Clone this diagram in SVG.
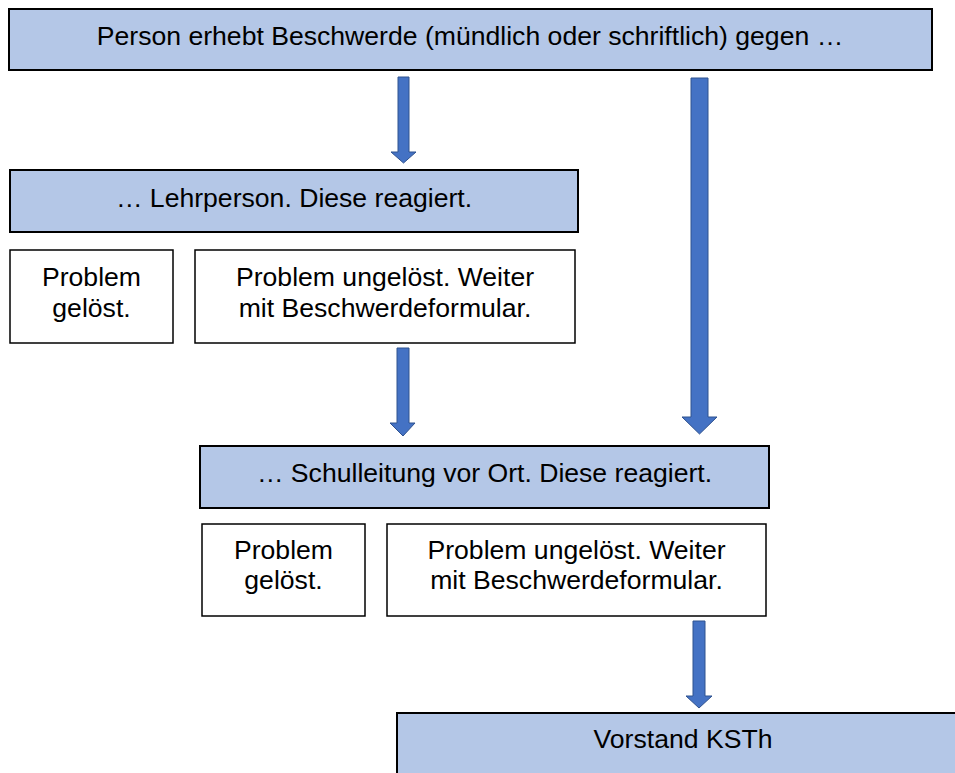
<svg xmlns="http://www.w3.org/2000/svg" width="955" height="773" viewBox="0 0 955 773">
<style>
.hb{fill:#B4C7E7;stroke:#000;stroke-width:2}
.wb{fill:#fff;stroke:#000;stroke-width:1.5}
.t{font-family:"Liberation Sans",Arial,sans-serif;font-size:26.6px;fill:#000;text-anchor:middle}
.ar{fill:#4472C4;stroke:#2F528F;stroke-width:1}
</style>
<rect width="955" height="773" fill="#fff"/>
<g id="connectors">
<path class="ar" d="M398,77 H409 V152 H416 L403.5,163 L391,152 H398 Z"/>
<path class="ar" d="M691,78 H708 V417 H717 L699.5,434 L682,417 H691 Z"/>
<path class="ar" d="M397,348 H409 V423 H415 L403,436 L390,423 H397 Z"/>
<path class="ar" d="M693,621 H705 V696 H712 L699,708 L686,696 H693 Z"/>
</g>
<g id="n_top">
<rect class="hb" x="9" y="9" width="923" height="61"/>
<text class="t" x="470" y="45">Person erhebt Beschwerde (mündlich oder schriftlich) gegen …</text>
</g>
<g id="n_lehrperson">
<rect class="hb" x="10" y="170" width="568" height="62"/>
<text class="t" x="294" y="207">… Lehrperson. Diese reagiert.</text>
</g>
<g id="n_geloest1">
<rect class="wb" x="10" y="250" width="163" height="93"/>
<text class="t" x="91.5" y="286">Problem</text>
<text class="t" x="91.5" y="317">gelöst.</text>
</g>
<g id="n_ungeloest1">
<rect class="wb" x="195" y="250" width="380" height="93"/>
<text class="t" x="385" y="286">Problem ungelöst. Weiter</text>
<text class="t" x="385" y="317">mit Beschwerdeformular.</text>
</g>
<g id="n_schulleitung">
<rect class="hb" x="200" y="446" width="569" height="62"/>
<text class="t" x="484.5" y="482">… Schulleitung vor Ort. Diese reagiert.</text>
</g>
<g id="n_geloest2">
<rect class="wb" x="202" y="524" width="163" height="92"/>
<text class="t" x="283.5" y="559">Problem</text>
<text class="t" x="283.5" y="589">gelöst.</text>
</g>
<g id="n_ungeloest2">
<rect class="wb" x="387" y="524" width="379" height="92"/>
<text class="t" x="576.5" y="559">Problem ungelöst. Weiter</text>
<text class="t" x="576.5" y="589">mit Beschwerdeformular.</text>
</g>
<g id="n_vorstand">
<rect class="hb" x="397" y="713" width="572" height="64"/>
<text class="t" x="683" y="748">Vorstand KSTh</text>
</g>
</svg>
